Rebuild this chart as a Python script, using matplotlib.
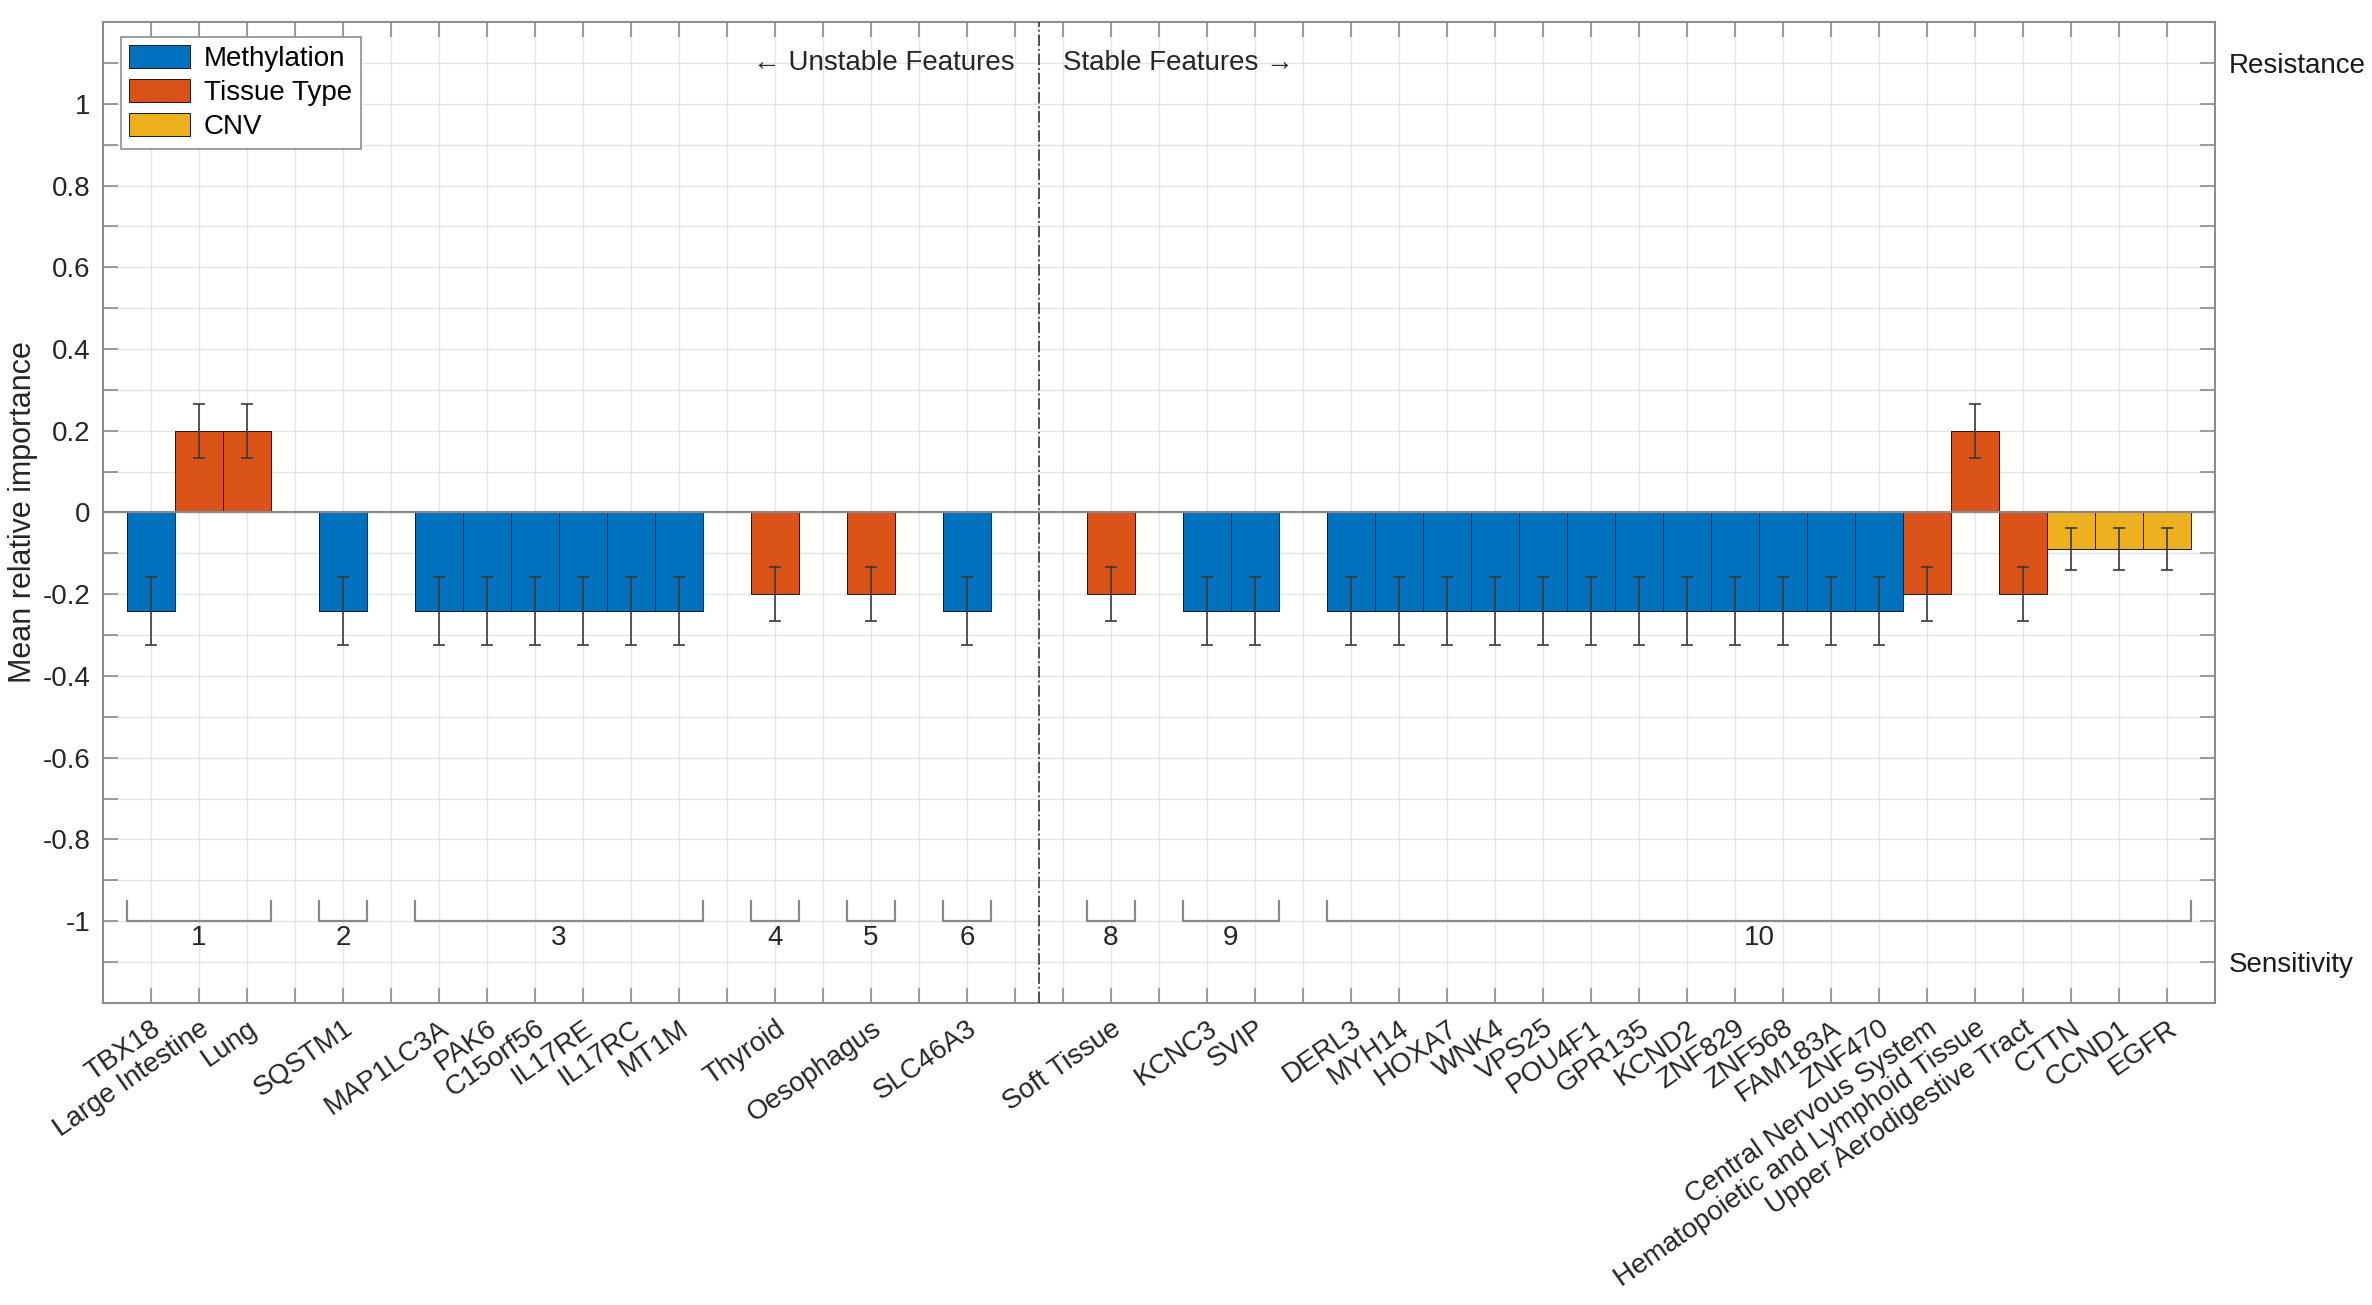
import numpy as np
import matplotlib
matplotlib.use("Agg")
import matplotlib.pyplot as plt
from matplotlib.patches import Patch

plt.rcParams['font.family'] = ['Liberation Sans', 'DejaVu Sans']

# feature names, grouped by cluster
features = ["TBX18", "Large Intestine", "Lung",
            "SQSTM1",
            "MAP1LC3A", "PAK6", "C15orf56", "IL17RE", "IL17RC", "MT1M",
            "Thyroid",
            "Oesophagus",
            "SLC46A3",
            "Soft Tissue",
            "KCNC3", "SVIP",
            "DERL3", "MYH14", "HOXA7", "WNK4", "VPS25", "POU4F1", "GPR135",
            "KCND2", "ZNF829", "ZNF568", "FAM183A", "ZNF470",
            "Central Nervous System", "Hematopoietic and Lymphoid Tissue",
            "Upper Aerodigestive Tract", "CTTN", "CCND1", "EGFR"]
groups = [1, 1, 1, 2, 3, 3, 3, 3, 3, 3, 4, 5, 6, 8, 9, 9] + [10] * 18
ftype = ["M", "T", "T", "M", "M", "M", "M", "M", "M", "M", "T", "T", "M",
         "T", "M", "M"] + ["M"] * 12 + ["T", "T", "T", "C", "C", "C"]
importance = [-0.242, 0.199, 0.199, -0.242,
              -0.242, -0.242, -0.242, -0.242, -0.242, -0.242,
              -0.199, -0.199, -0.242, -0.199, -0.242, -0.242,
              -0.242, -0.242, -0.242, -0.242, -0.242, -0.242, -0.242,
              -0.242, -0.242, -0.242, -0.242, -0.242,
              -0.199, 0.199, -0.199, -0.089, -0.089, -0.089]
err = [0.083, 0.066, 0.066, 0.083,
       0.083, 0.083, 0.083, 0.083, 0.083, 0.083,
       0.066, 0.066, 0.083, 0.066, 0.083, 0.083,
       0.083, 0.083, 0.083, 0.083, 0.083, 0.083, 0.083,
       0.083, 0.083, 0.083, 0.083, 0.083,
       0.066, 0.066, 0.066, 0.052, 0.052, 0.052]
stable_from = 8  # clusters >= this are stable

colors = {"M": "#0072BD", "T": "#D95319", "C": "#EDB120"}
type_names = {"M": "Methylation", "T": "Tissue Type", "C": "CNV"}
FS = 20

# lay out bar slots: one empty slot between clusters, an extra one at the split
pos = []
x = 0
prev = None
split = None
for g in groups:
    if prev is not None and g != prev:
        x += 1
        if prev < stable_from <= g:
            split = x + 0.5
            x += 1
    x += 1
    pos.append(x)
    prev = g
pos = np.array(pos)
nslots = pos[-1] + 1

fig = plt.figure(figsize=(23.72, 13.05), dpi=100)
ax = fig.add_axes([0.04342, 0.23142, 0.89039, 0.75172])

ax.bar(pos, importance, width=1.0, color=[colors[t] for t in ftype],
       edgecolor="#1a1a1a", linewidth=0.7, zorder=3)
ax.errorbar(pos, importance, yerr=err, fmt="none", ecolor="#3a3a3a",
            elinewidth=1.2, capsize=4, capthick=1.2, zorder=4)
ax.axhline(0, color="#8a8a8a", lw=1.6, zorder=3.5)

# cluster brackets and numbers
for g in sorted(set(groups)):
    p = pos[np.array(groups) == g]
    x0, x1 = p.min() - 0.5, p.max() + 0.5
    ax.plot([x0, x0, x1, x1], [-0.95, -1.0, -1.0, -0.95], color="#8a8a8a",
            lw=1.6, zorder=3)
    ax.text((x0 + x1) / 2, -1.058, str(g), ha="center", va="baseline",
            fontsize=FS, color="#262626")

ax.axvline(split, color="#404040", lw=1.3, ls="-.", zorder=3)
ax.text(split - 0.5, 1.1, "\u2190 Unstable Features", ha="right", va="center",
        fontsize=FS, color="#262626")
ax.text(split + 0.5, 1.1, "Stable Features \u2192", ha="left", va="center",
        fontsize=FS, color="#262626")

ax.set_xlim(0, nslots)
ax.set_ylim(-1.2, 1.2)

slot_labels = [""] * (nslots - 1)
for p, name in zip(pos, features):
    slot_labels[p - 1] = name
ax.set_xticks(np.arange(1, nslots))
ax.set_xticklabels(slot_labels, rotation=35, ha="right", va="top",
                   rotation_mode="anchor", fontsize=FS, color="#262626")

yt = np.round(np.arange(-1.1, 1.11, 0.1), 1)
ylabels = []
for v in yt:
    if abs(v) <= 1 and round(v * 10) % 2 == 0:
        ylabels.append("0" if v == 0 else f"{v:g}")
    else:
        ylabels.append("")
ax.set_yticks(yt)
ax.set_yticklabels(ylabels, fontsize=FS, color="#262626")
ax.set_ylabel("Mean relative importance", fontsize=22, color="#262626",
              labelpad=3)

ax.grid(True, color="#e4e4e4", lw=1.0, zorder=0)
ax.set_axisbelow(True)
ax.tick_params(axis="both", direction="in", length=11, width=1.2,
               color="#8c8c8c", pad=9, top=True)
for s in ax.spines.values():
    s.set_color("#8c8c8c")
    s.set_linewidth(1.5)

ax2 = ax.twinx()
ax2.set_ylim(ax.get_ylim())
ax2.set_yticks(yt)
ax2.set_yticklabels(["Resistance" if v == 1.1 else "Sensitivity" if v == -1.1
                     else "" for v in yt], fontsize=FS, color="#1a1a1a")
ax2.tick_params(axis="y", direction="in", length=11, width=1.2,
                color="#8c8c8c", pad=10)
for s in ax2.spines.values():
    s.set_visible(False)

handles = [Patch(facecolor=colors[k], edgecolor="#1a1a1a", linewidth=0.7,
                 label=type_names[k]) for k in ["M", "T", "C"]]
leg = ax.legend(handles=handles, loc="upper left",
                bbox_to_anchor=(0.0084, 0.985), borderaxespad=0,
                fontsize=FS, handlelength=2.2, handleheight=0.9,
                labelspacing=0.25, handletextpad=0.5, borderpad=0.3,
                fancybox=False, framealpha=1)
leg.get_frame().set_edgecolor("#8c8c8c")
leg.get_frame().set_linewidth(1.2)
leg.set_zorder(10)

fig.savefig("out.png", dpi=100)
